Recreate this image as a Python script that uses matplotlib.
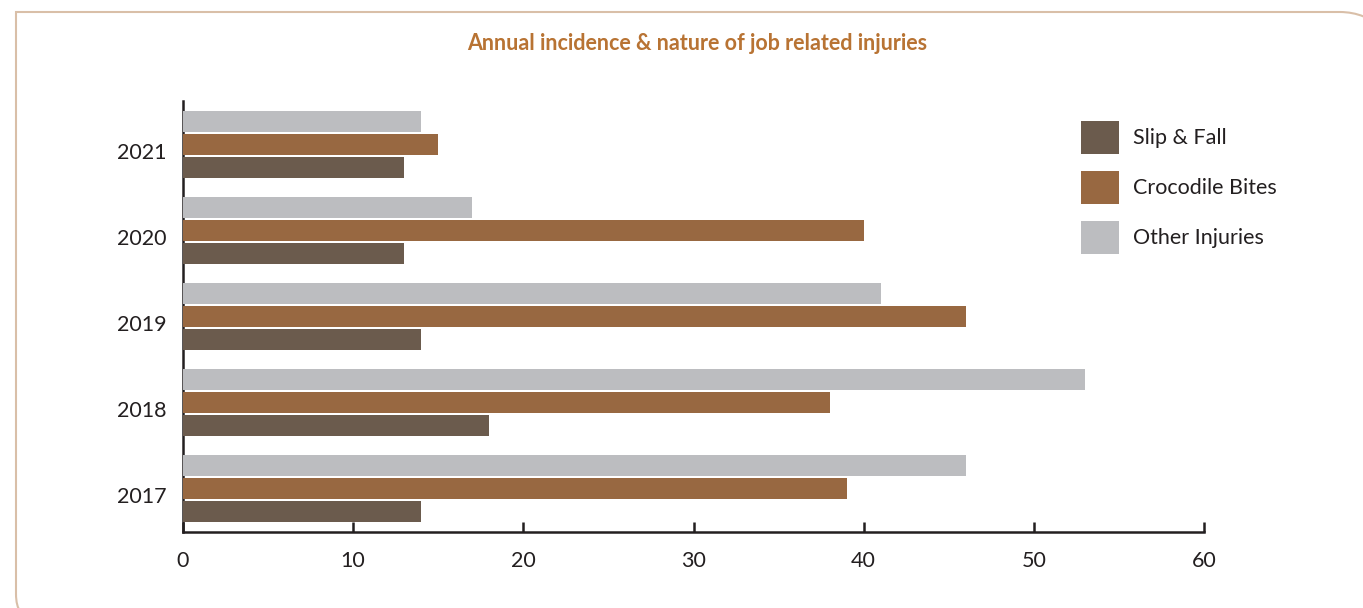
import numpy as np
import matplotlib.pyplot as plt
from matplotlib.path import Path
from matplotlib.patches import PathPatch

years = ['2017', '2018', '2019', '2020', '2021']
slip_fall = [14, 18, 14, 13, 13]
croc_bites = [39, 38, 46, 40, 15]
other_inj = [46, 53, 41, 17, 14]
series_names = ['Slip & Fall', 'Crocodile Bites', 'Other Injuries']

colors = ['#6b5b4d', '#986841', '#bcbdc0']
ink = '#231f20'

plt.rcParams['font.family'] = ['Lato', 'DejaVu Sans']

W, H = 1363, 608
fig = plt.figure(figsize=(W / 100, H / 100), dpi=100)

# rounded frame around the panel (pixel coords, y down)
def px(x, y):
    return (x / W, 1 - y / H)

r = 24
verts = [px(1420, 618), px(34, 618), px(16, 618), px(16, 618 - r),
         px(16, 12), px(1340, 12), px(1365, 12), px(1385, 30)]
codes = [Path.MOVETO, Path.LINETO, Path.CURVE3, Path.CURVE3,
         Path.LINETO, Path.LINETO, Path.CURVE3, Path.CURVE3]
fig.patches.append(PathPatch(Path(verts, codes), transform=fig.transFigure,
                             fill=False, edgecolor='#d9bfa8', lw=1.5))

ax = fig.add_axes([183 / W, 1 - 532 / H, 1021 / W, 431 / H])

y = np.arange(len(years))
step = 0.267
h = 0.245
ax.barh(y - step, slip_fall, height=h, color=colors[0], label=series_names[0], zorder=3)
ax.barh(y, croc_bites, height=h, color=colors[1], label=series_names[1], zorder=3)
ax.barh(y + step, other_inj, height=h, color=colors[2], label=series_names[2], zorder=3)

ax.set_xlim(0, 60)
ax.set_ylim(-0.505, 4.505)
ax.set_xticks(range(0, 61, 10))
ax.set_yticks(y - 0.075)
ax.set_yticklabels(years)

for s in ['top', 'right']:
    ax.spines[s].set_visible(False)
for s in ['left', 'bottom']:
    ax.spines[s].set_color(ink)
    ax.spines[s].set_linewidth(1.8)
ax.tick_params(axis='x', direction='in', length=7.5, width=1.8, color=ink,
               labelsize=15.5, labelcolor=ink, pad=14)
ax.tick_params(axis='y', length=0, labelsize=15.5, labelcolor=ink, pad=12)

fig.text(697 / W, 1 - 43 / H, 'Annual incidence & nature of job related injuries',
         ha='center', va='center', fontsize=15.5, fontweight='bold', color='#b87333')

ax.legend(loc='upper left', bbox_to_anchor=px(1081, 121), bbox_transform=fig.transFigure,
          frameon=False, fontsize=15.5, borderpad=0, borderaxespad=0,
          handlelength=1.77, handleheight=1.98, handletextpad=0.65,
          labelspacing=0.78, labelcolor=ink)

fig.savefig('out.png', dpi=100)
